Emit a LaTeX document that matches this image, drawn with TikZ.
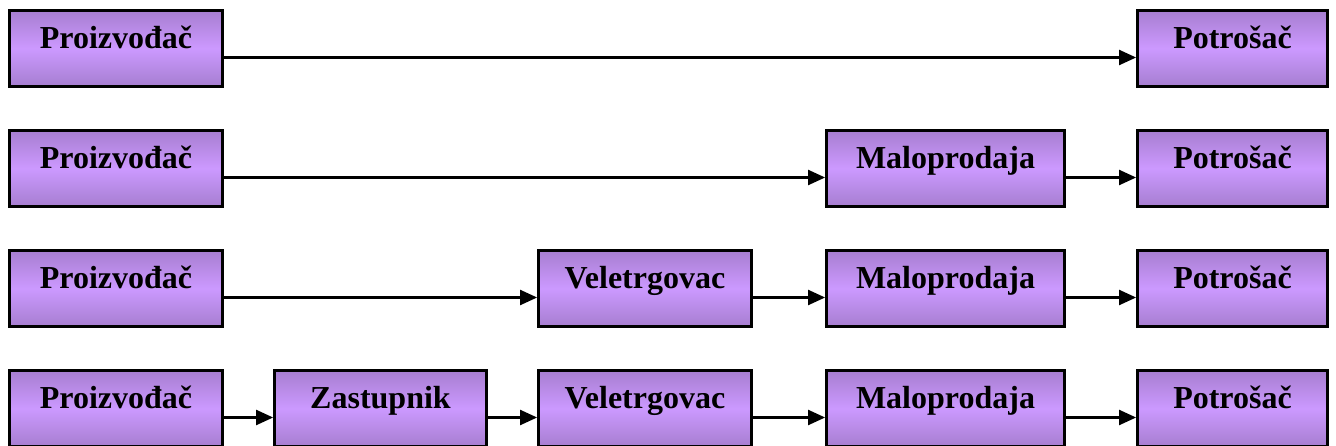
\documentclass[tikz,border=0pt]{standalone}
\usepackage{fontspec}
\setmainfont{Liberation Serif}
\usepackage{tikz}
\usetikzlibrary{arrows.meta}
\definecolor{boxedge}{RGB}{166,126,208}
\definecolor{boxmid}{RGB}{204,153,255}
\tikzset{
	kanal/.style={rectangle,draw=black,line width=2.8pt,top color=boxedge,bottom color=boxedge,middle color=boxmid,
		minimum height=76pt,inner sep=0pt,text height=20pt,text depth=20pt,
		font=\fontsize{32}{38}\selectfont\bfseries},
	tok/.style={line width=2.2pt,-{Triangle[length=17pt,width=15pt]}}
}
\begin{document}
\begin{tikzpicture}[x=1pt,y=1pt,node distance=120pt]
		    \useasboundingbox (0,0) rectangle (1336,-446);
		    \node[kanal,minimum width=213pt] (p1) at (116,-48.5)       {Proizvođač};
		    \node[kanal,minimum width=213pt] (p2) [below of=p1]        {Proizvođač};
		    \node[kanal,minimum width=213pt] (p3) [below of=p2]        {Proizvođač};
		    \node[kanal,minimum width=213pt] (p4) [below of=p3]        {Proizvođač};
		    \node[kanal,minimum width=212pt] (z4) at (380.5,-408.5)    {Zastupnik};
		    \node[kanal,minimum width=213pt] (v3) at (645,-288.5)      {Veletrgovac};
		    \node[kanal,minimum width=213pt] (v4) [below of=v3]        {Veletrgovac};
		    \node[kanal,minimum width=238pt] (m2) at (945.5,-168.5)    {Maloprodaja};
		    \node[kanal,minimum width=238pt] (m3) [below of=m2]        {Maloprodaja};
		    \node[kanal,minimum width=238pt] (m4) [below of=m3]        {Maloprodaja};
		    \node[kanal,minimum width=190pt] (k1) at (1232.5,-48.5)    {Potrošač};
		    \node[kanal,minimum width=190pt] (k2) [below of=k1]        {Potrošač};
		    \node[kanal,minimum width=190pt] (k3) [below of=k2]        {Potrošač};
		    \node[kanal,minimum width=190pt] (k4) [below of=k3]        {Potrošač};

		    % strelice su malo ispod sredine kutije
		    \draw[tok] ([yshift=-9pt]p1.east) -- ([yshift=-9pt]k1.west);
		    \draw[tok] ([yshift=-9pt]p2.east) -- ([yshift=-9pt]m2.west);
		    \draw[tok] ([yshift=-9pt]m2.east) -- ([yshift=-9pt]k2.west);
		    \draw[tok] ([yshift=-9pt]p3.east) -- ([yshift=-9pt]v3.west);
		    \draw[tok] ([yshift=-9pt]v3.east) -- ([yshift=-9pt]m3.west);
		    \draw[tok] ([yshift=-9pt]m3.east) -- ([yshift=-9pt]k3.west);
		    \draw[tok] ([yshift=-9pt]p4.east) -- ([yshift=-9pt]z4.west);
		    \draw[tok] ([yshift=-9pt]z4.east) -- ([yshift=-9pt]v4.west);
		    \draw[tok] ([yshift=-9pt]v4.east) -- ([yshift=-9pt]m4.west);
		    \draw[tok] ([yshift=-9pt]m4.east) -- ([yshift=-9pt]k4.west);
		  \end{tikzpicture}
\end{document}
